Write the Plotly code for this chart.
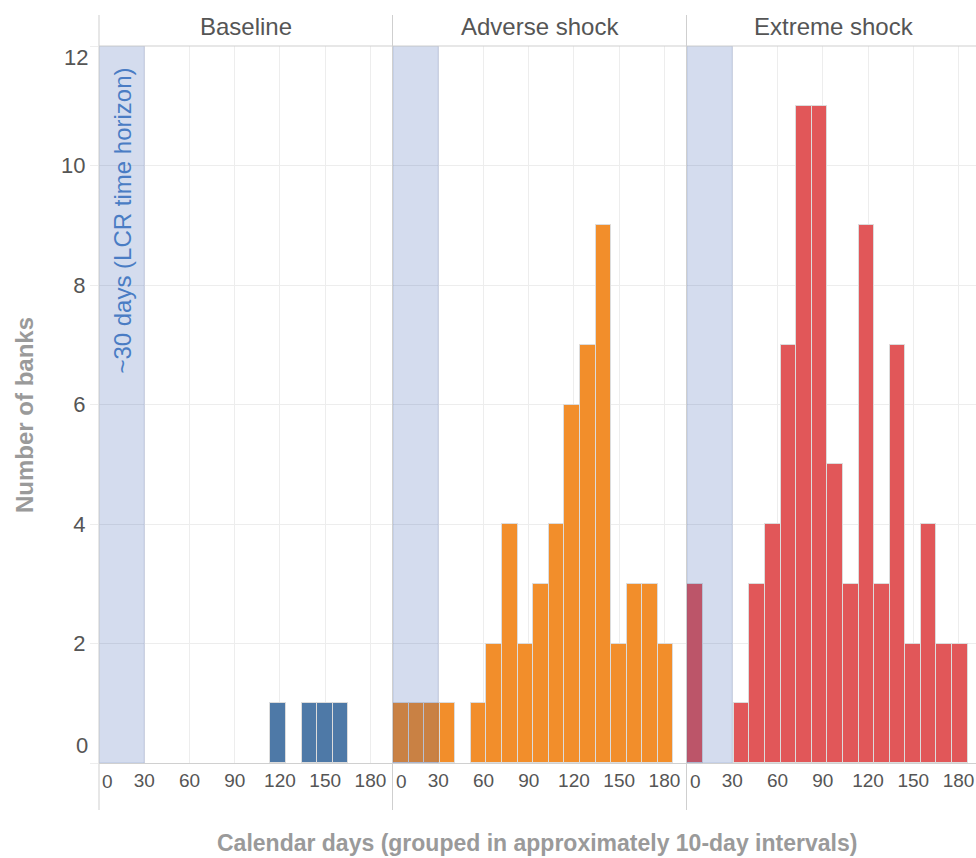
import plotly.graph_objects as go

# ---- data ----
bin_start = [0, 10.3, 20.7, 31, 41.3, 51.7, 62, 72.3, 82.7, 93, 103.3, 113.7, 124, 134.3, 144.7, 155, 165.3, 175.7]
bin_end = [10.3, 20.7, 31, 41.3, 51.7, 62, 72.3, 82.7, 93, 103.3, 113.7, 124, 134.3, 144.7, 155, 165.3, 175.7, 186]

baseline = [0, 0, 0, 0, 0, 0, 0, 0, 0, 0, 0, 1, 0, 1, 1, 1, 0, 0]
adverse = [1, 1, 1, 1, 0, 1, 2, 4, 2, 3, 4, 6, 7, 9, 2, 3, 3, 2]
extreme = [3, 0, 0, 1, 3, 4, 7, 11, 11, 5, 3, 9, 3, 7, 2, 4, 2, 2]

panels = ["Baseline", "Adverse shock", "Extreme shock"]
colors = ["#4e79a7", "#f28e2b", "#e15759"]
x_ticks = [0, 30, 60, 90, 120, 150, 180]
x_tick_text = ["", "30", "60", "90", "120", "150", "180"]
y_ticks = [0, 2, 4, 6, 8, 10, 12]
lcr_days = 30
lcr_text = "~30 days (LCR time horizon)"

FONT = "Liberation Sans, Arial, sans-serif"
W, H = 976, 858
ML, MR, MT, MB = 99, 0, 46, 95
PW = W - ML - MR
PH = H - MT - MB

def px_x(p):
    return (p - ML) / PW

def px_y(p):
    return (H - MB - p) / PH

centers = [(a + b) / 2 for a, b in zip(bin_start, bin_end)]
widths = [b - a for a, b in zip(bin_start, bin_end)]

fig = go.Figure()
axis_ids = ["x", "x2", "x3"]
for series, name, color, ax in zip([baseline, adverse, extreme], panels, colors, axis_ids):
    fig.add_trace(go.Bar(
        x=centers, y=[v if v else None for v in series], width=widths,
        marker=dict(color=color, line=dict(color="#dcdcdc", width=1)),
        xaxis=ax, yaxis="y", name=name, showlegend=False,
    ))

domains = [[0, px_x(392)], [px_x(393), px_x(686)], [px_x(687), 1.0]]
ranges = [[0, 194.3], [0, 194.3], [0, 191.6]]

xaxis_common = dict(
    tickmode="array", tickvals=x_ticks, ticktext=x_tick_text,
    tickfont=dict(family=FONT, size=19, color="#555"),
    showgrid=True, gridcolor="#ededed", gridwidth=1,
    showline=True, linecolor="#d0d0d0", linewidth=1,
    zeroline=False, ticks="", anchor="y", fixedrange=True,
)
layout = dict(
    width=W, height=H,
    margin=dict(l=ML, r=MR, t=MT, b=MB),
    paper_bgcolor="white", plot_bgcolor="white",
    barmode="overlay", bargap=0,
    font=dict(family=FONT, color="#555"),
    yaxis=dict(
        range=[0, 12], tickmode="array", tickvals=y_ticks,
        ticktext=["", "2", "4", "6", "8", "10", ""],
        tickfont=dict(family=FONT, size=22, color="#555"),
        showgrid=True, gridcolor="#ededed", gridwidth=1,
        ticks="outside", ticklen=8, tickcolor="#ededed",
        zeroline=False, showline=False, anchor="x",
    ),
)
for i, ax in enumerate(["xaxis", "xaxis2", "xaxis3"]):
    d = dict(xaxis_common)
    d["domain"] = domains[i]
    d["range"] = ranges[i]
    layout[ax] = d
fig.update_layout(**layout)

shapes = []
annotations = []
for i, ax in enumerate(axis_ids):
    # LCR horizon band drawn above the bars
    shapes.append(dict(
        type="rect", xref=ax, yref="y", x0=0, x1=lcr_days, y0=0, y1=12,
        fillcolor="rgba(40,80,170,0.2)", line=dict(color="rgba(60,90,170,0.18)", width=1),
        layer="above",
    ))
    # panel titles
    right = domains[i][1] if i < 2 else px_x(980)
    mid = (domains[i][0] + right) / 2
    annotations.append(dict(
        text=panels[i], xref="paper", yref="paper", x=mid, y=px_y(27),
        xanchor="center", yanchor="middle", showarrow=False,
        font=dict(family=FONT, size=24, color="#555"),
    ))
    # flush-left "0" tick label of each panel
    annotations.append(dict(
        text=str(x_ticks[0]), xref=ax, yref="paper", x=0, y=px_y(781), xshift=1,
        xanchor="left", yanchor="middle", showarrow=False,
        font=dict(family=FONT, size=19, color="#555"),
    ))

# facet separators
for xp in [0, px_x(392.5), px_x(686.5)]:
    shapes.append(dict(type="line", xref="paper", yref="paper", x0=xp, x1=xp,
                       y0=px_y(810), y1=px_y(15), line=dict(color="#cfcfcf", width=1)))
# header bottom border
shapes.append(dict(type="line", xref="paper", yref="paper", x0=0, x1=1,
                   y0=1, y1=1, line=dict(color="#cfcfcf", width=1)))

# LCR annotation
annotations.append(dict(
    text=lcr_text, xref="x", yref="y", x=15, y=12, yshift=-20,
    xanchor="center", yanchor="top", textangle=-90, showarrow=False,
    font=dict(family=FONT, size=24, color="#4a7cc4"),
))
# flush end labels of y axis
annotations.append(dict(text="0", xref="paper", yref="y", x=0, y=0, xshift=-9, yshift=18,
                        xanchor="right", yanchor="middle", showarrow=False,
                        font=dict(family=FONT, size=22, color="#555")))
annotations.append(dict(text="12", xref="paper", yref="y", x=0, y=12, xshift=-9, yshift=-11,
                        xanchor="right", yanchor="middle", showarrow=False,
                        font=dict(family=FONT, size=22, color="#555")))
# axis titles
annotations.append(dict(
    text="<b>Calendar days (grouped in approximately 10-day intervals)</b>",
    xref="paper", yref="paper", x=px_x(537), y=px_y(843), xanchor="center", yanchor="middle",
    showarrow=False, font=dict(family=FONT, size=23, color="#9a9a9a"),
))
annotations.append(dict(
    text="<b>Number of banks</b>", xref="paper", yref="paper", x=px_x(24), y=px_y(415),
    xanchor="center", yanchor="middle", textangle=-90,
    showarrow=False, font=dict(family=FONT, size=24, color="#9a9a9a"),
))

fig.update_layout(shapes=shapes, annotations=annotations)
fig.write_html("out.html", config={"displayModeBar": False},
               post_script="document.body.style.margin='0';document.body.style.overflow='hidden';")
